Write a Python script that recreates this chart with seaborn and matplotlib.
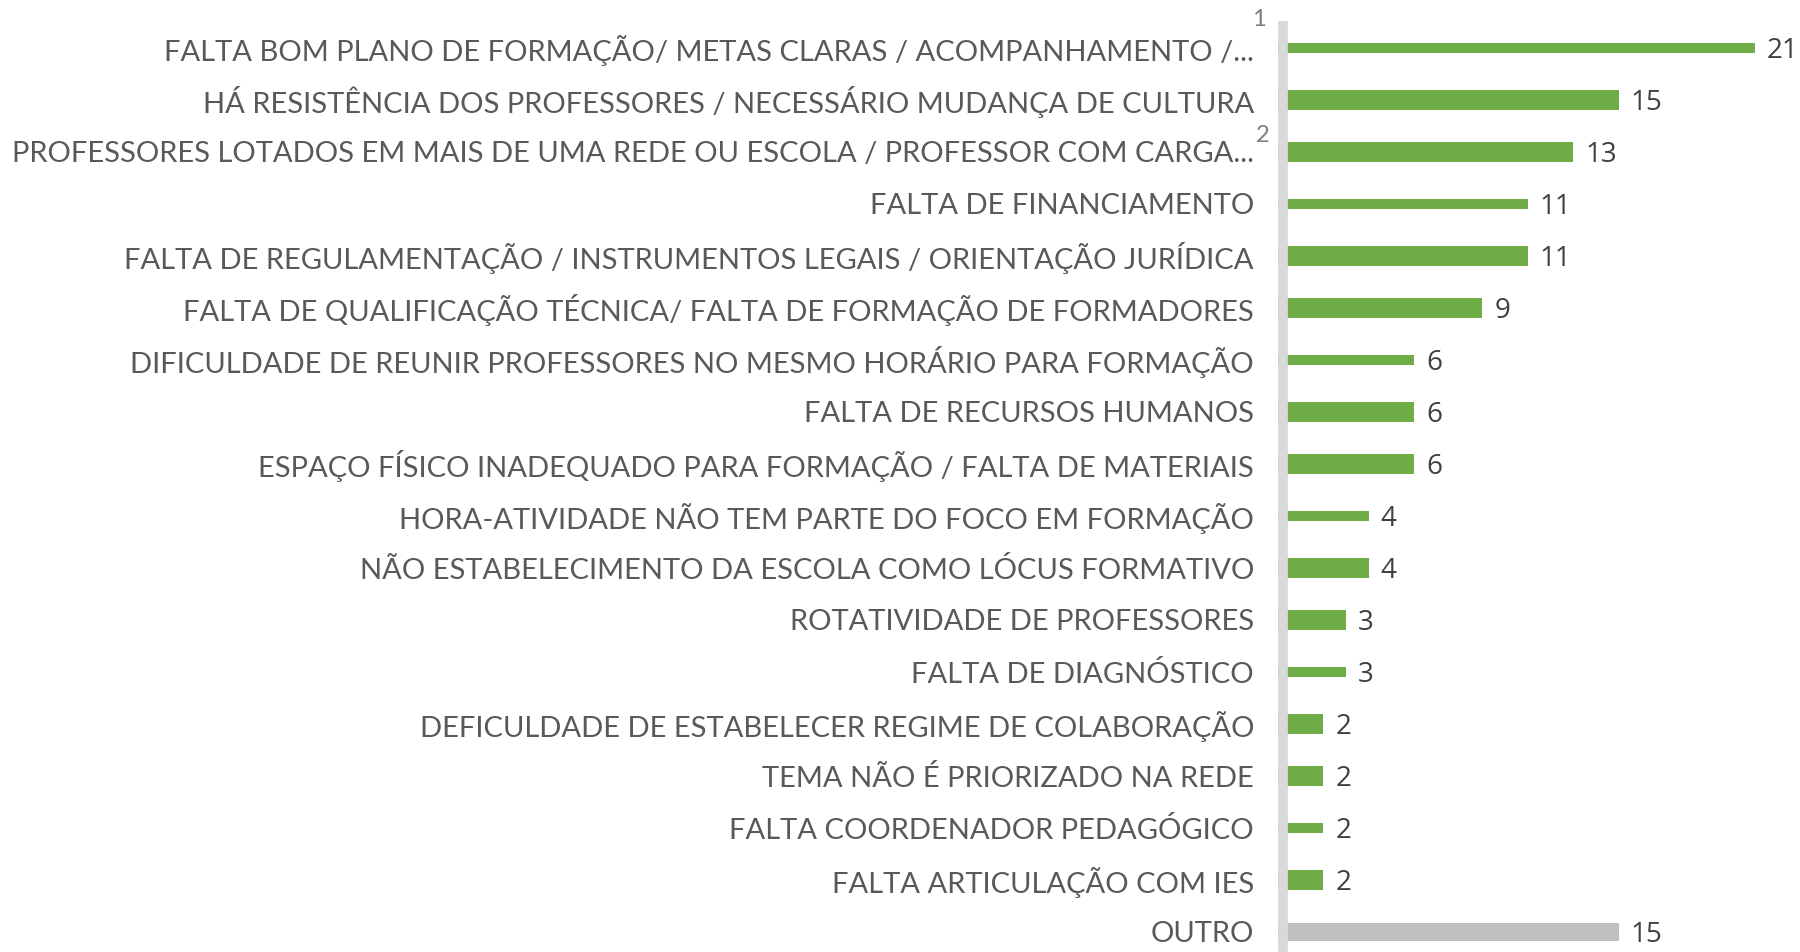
import matplotlib
matplotlib.use("Agg")
import matplotlib.pyplot as plt
from matplotlib.lines import Line2D
import seaborn as sns
import pandas as pd

categories = [
    "FALTA BOM PLANO DE FORMAÇÃO/ METAS CLARAS / ACOMPANHAMENTO /...",
    "HÁ RESISTÊNCIA DOS PROFESSORES / NECESSÁRIO MUDANÇA DE CULTURA",
    "PROFESSORES LOTADOS EM MAIS DE UMA REDE OU ESCOLA / PROFESSOR COM CARGA...",
    "FALTA DE FINANCIAMENTO",
    "FALTA DE REGULAMENTAÇÃO / INSTRUMENTOS LEGAIS / ORIENTAÇÃO JURÍDICA",
    "FALTA DE QUALIFICAÇÃO TÉCNICA/ FALTA DE FORMAÇÃO DE FORMADORES",
    "DIFICULDADE DE REUNIR PROFESSORES NO MESMO HORÁRIO PARA FORMAÇÃO",
    "FALTA DE RECURSOS HUMANOS",
    "ESPAÇO FÍSICO INADEQUADO PARA FORMAÇÃO / FALTA DE MATERIAIS",
    "HORA-ATIVIDADE NÃO TEM PARTE DO FOCO EM FORMAÇÃO",
    "NÃO ESTABELECIMENTO DA ESCOLA COMO LÓCUS FORMATIVO",
    "ROTATIVIDADE DE PROFESSORES",
    "FALTA DE DIAGNÓSTICO",
    "DEFICULDADE DE ESTABELECER REGIME DE COLABORAÇÃO",
    "TEMA NÃO É PRIORIZADO NA REDE",
    "FALTA COORDENADOR PEDAGÓGICO",
    "FALTA ARTICULAÇÃO COM IES",
    "OUTRO",
]
values = [21, 15, 13, 11, 11, 9, 6, 6, 6, 4, 4, 3, 3, 2, 2, 2, 2, 15]
footnotes = ["1", "2"]

GREEN = "#70AD47"
GREY_BAR = "#BFBFBF"
AXIS_GREY = "#D9D9D9"

sns.set_theme(style="white")
plt.rcParams["font.family"] = ["Lato", "DejaVu Sans"]

W, H = 1800, 952
fig = plt.figure(figsize=(W / 100, H / 100), dpi=100)
x0 = 1278
ax = fig.add_axes([x0 / W, 0, 1 - x0 / W, 1])

df = pd.DataFrame({"cat": categories, "val": values})
colors = [GREY_BAR if c == "OUTRO" else GREEN for c in categories]
sns.barplot(data=df, x="val", y="cat", hue="cat", palette=colors, legend=False,
            orient="h", ax=ax, width=0.4, saturation=1)

# bar thickness pattern as rendered in the reference
for i, p in enumerate(ax.patches):
    if categories[i] == "OUTRO":
        h = 0.35
    elif i % 3 == 0:
        h = 0.19
    else:
        h = 0.40
    cy = p.get_y() + p.get_height() / 2
    p.set_height(h)
    p.set_y(cy - h / 2)
    p.set_edgecolor("none")

px_per_unit = 22.7
ax.set_xlim(0, (W - x0) / px_per_unit)
ax.set_ylim(17 + 20 / 52, -48 / 52)

for i, v in enumerate(values):
    ax.text(v + 12 / px_per_unit, i + 0.06, str(v), va="center", ha="left",
            fontsize=20, color="#404040", family=["Open Sans", "DejaVu Sans"])

ax.set_xlabel("")
ax.set_ylabel("")
ax.set_xticks([])
ax.tick_params(axis="y", length=0, pad=(x0 - 1254) * 0.72, labelsize=21,
               labelcolor="#595959")
for s in ax.spines.values():
    s.set_visible(False)

# vertical grey axis line (covers the bar bases)
fig.add_artist(Line2D([1282.5 / W, 1282.5 / W], [0, 1 - 21 / H], transform=fig.transFigure,
                      color=AXIS_GREY, lw=7, solid_capstyle="butt"))

fn_pos = [(1259, 20), (1263, 135)]
for t, (fx, fy) in zip(footnotes, fn_pos):
    fig.text(fx / W, 1 - fy / H, t, fontsize=17, color="#7F7F7F",
             ha="center", va="center")

fig.savefig("out.png", dpi=100)
